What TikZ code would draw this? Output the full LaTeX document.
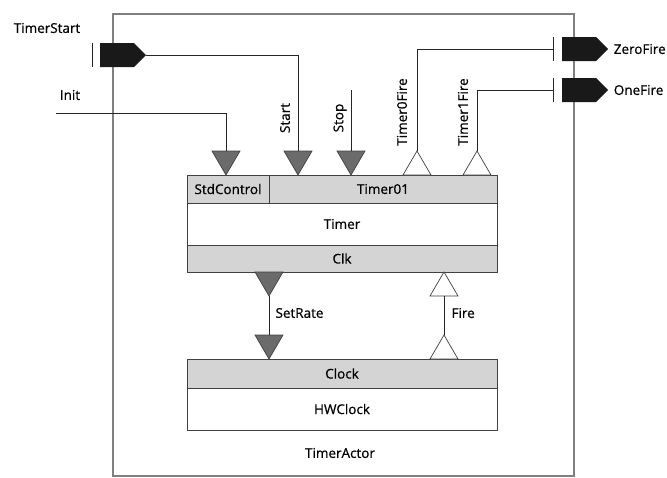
\documentclass[tikz,border=0pt]{standalone}
\usepackage{fontspec}
\setmainfont{Open Sans}[FakeBold=0.7]
\usetikzlibrary{shapes.geometric, shapes.symbols, positioning}

\begin{document}
\begin{tikzpicture}[
    x=1pt, y=-1pt,
    every node/.style={font=\fontsize{13.5}{15}\selectfont},
    row/.style={draw=black!75, fill=black!17, line width=0.9pt, outer sep=0pt, inner sep=0pt, minimum height=28pt},
    body/.style={row, fill=white, minimum height=42pt},
    intri/.style={isosceles triangle, isosceles triangle stretches, shape border rotate=270, draw=black!75, fill=black!58, line width=0.7pt, minimum width=28pt, minimum height=24pt, inner sep=0pt, outer sep=0pt},
    outtri/.style={intri, shape border rotate=90, fill=white},
    port/.style={signal, signal to=east, fill=black!90, minimum width=46pt, minimum height=24pt, inner sep=0pt},
    wire/.style={line width=0.7pt, black!85}
]
    \useasboundingbox (0,0) rectangle (667,477);

    % enclosing actor
    \node[draw=black!50, line width=1.8pt, minimum width=461pt, minimum height=462pt, anchor=north west] (actor) at (112,13) {};
    \node (actorlbl) at (340,453) {TimerActor};

    % Timer component, rows stacked downward
    \node[row, minimum width=82pt, anchor=north west] (stdc) at (187,175) {StdControl};
    \node[row, minimum width=228pt, right=0pt of stdc] (t01) {Timer01};
    \node[body, minimum width=310pt, anchor=north west] (timer) at (stdc.south west) {Timer};
    \node[row, minimum width=310pt, minimum height=27pt, below=0pt of timer] (clk) {Clk};

    % HWClock component
    \node[row, minimum width=310pt, minimum height=29pt, anchor=north west] (clock) at (187,359) {Clock};
    \node[body, minimum width=310pt, below=0pt of clock] (hwclock) {HWClock};

    % interface triangles on Timer01 / StdControl
    \node[intri, anchor=apex] (initp)  at (226,175) {};
    \node[intri, anchor=apex] (startp) at (298,175) {};
    \node[intri, anchor=apex] (stopp)  at (351,175) {};
    \node[outtri, anchor=lower side] (t0p) at (417,175) {};
    \node[outtri, anchor=lower side] (t1p) at (477,175) {};

    % Clk <-> Clock
    \node[intri, anchor=lower side] (rateout) at (269,272) {};
    \node[intri, anchor=apex] (ratein) at (269,359) {};
    \node[outtri, anchor=apex] (fireup) at (444,272) {};
    \node[outtri, anchor=lower side] (firelow) at (444,359) {};

    % actor ports
    \node[port] (tstart) at (117,55) {};
    \node[port] (zfire)  at (579,49) {};
    \node[port] (ofire)  at (579,90) {};
    \node (tstartlbl) at (47,28) {TimerStart};
    \node[right=2pt of zfire] (zfirelbl) {ZeroFire};
    \node[right=2pt of ofire] (ofirelbl) {OneFire};
    \draw[wire] ([xshift=-7pt]tstart.north west) -- ([xshift=-7pt]tstart.south west);
    \draw[wire] ([xshift=-8pt]zfire.north west) -- ([xshift=-8pt]zfire.south west);
    \draw[wire] ([xshift=-8pt]ofire.north west) -- ([xshift=-8pt]ofire.south west);

    % wires
    \coordinate (initsrc) at (56,113);
    \coordinate (stopsrc) at (351,90);
    \node (initlbl) at (70,95) {Init};
    \draw[wire] (initsrc) -| (initp.lower side);
    \draw[wire] (tstart.east) -| (startp.lower side);
    \draw[wire] (stopsrc) -- (stopp.lower side);
    \draw[wire] (t0p.apex) |- ([xshift=-8pt]zfire.west);
    \draw[wire] (t1p.apex) |- ([xshift=-8pt]ofire.west);
    \draw[wire] (rateout.apex) -- (ratein.lower side);
    \draw[wire] (firelow.apex) -- (fireup.lower side);

    % rotated labels
    \node[rotate=90] (startlbl) at (285,118) {Start};
    \node[rotate=90] (stoplbl)  at (340,118) {Stop};
    \node[rotate=90] (t0lbl)    at (402,112) {Timer0Fire};
    \node[rotate=90] (t1lbl)    at (463,112) {Timer1Fire};
    \node[right] (ratelbl) at (272,313) {SetRate};
    \node[right] (firelbl) at (448,313) {Fire};
\end{tikzpicture}
\end{document}
